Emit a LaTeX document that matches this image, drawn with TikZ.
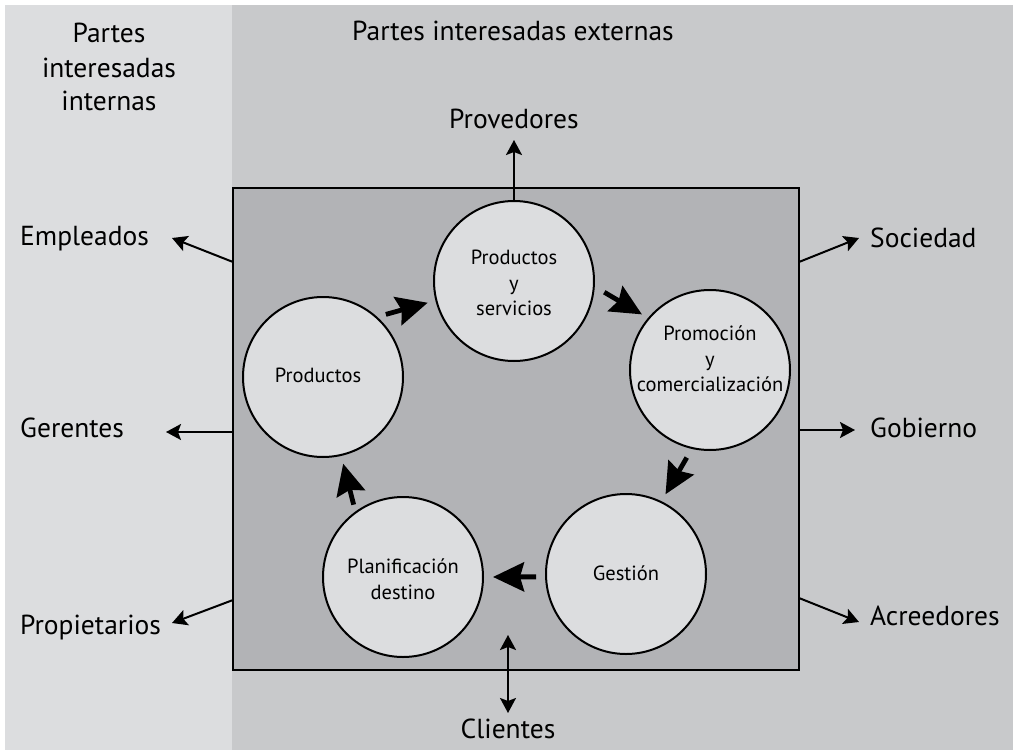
\documentclass[tikz,border=0pt]{standalone}
\usepackage{fontspec}
\setmainfont{PT Sans}
\usetikzlibrary{arrows.meta}

\definecolor{inpanel}{RGB}{220,221,223}
\definecolor{expanel}{RGB}{200,201,203}
\definecolor{boxfill}{RGB}{178,179,182}
\definecolor{circfill}{RGB}{220,221,223}

\begin{document}
\begin{tikzpicture}[x=1pt,y=-1pt,
  outer/.style={font=\fontsize{27.5}{34}\selectfont, inner sep=0pt},
  stage/.style={circle, draw=black, line width=2pt, fill=circfill,
    minimum size=160pt, inner sep=0pt},
  stagetext/.style={align=center, inner sep=0pt,
    font=\fontsize{20.5}{25.5}\selectfont},
  flow/.style={line width=4.8pt, -{Stealth[length=31pt,width=29pt,inset=4pt]}},
  link/.style={line width=2pt, -{Stealth[length=15pt,width=16pt,inset=3pt]}},
  twolink/.style={line width=2pt, {Stealth[length=15pt,width=16pt,inset=3pt]}-{Stealth[length=15pt,width=16pt,inset=3pt]}},
]
\useasboundingbox (0,0) rectangle (1013,750);
\fill[white] (0,0) rectangle (1013,750);

% internal and external stakeholder bands
\fill[inpanel] (5,5) rectangle (232,750);
\fill[expanel] (232,5) rectangle (1013,750);

% organisation box
\node[draw, line width=2pt, fill=boxfill, minimum width=566pt,
  minimum height=482pt, inner sep=0pt] (box) at (516,429) {};

% headings
\node[outer, anchor=base] (h1) at (109,42) {Partes};
\node[outer, anchor=base] (h2) at (109,77) {interesadas};
\node[outer, anchor=base] (h3) at (109,110) {internas};
\node[outer, anchor=base] (hx) at (513,40) {Partes interesadas externas};

% stakeholder labels
\node[outer, anchor=base west] (emp) at (20,245) {Empleados};
\node[outer, anchor=base west] (ger) at (20,437) {Gerentes};
\node[outer, anchor=base west] (pro) at (20,634) {Propietarios};
\node[outer, anchor=base west] (soc) at (870,247) {Sociedad};
\node[outer, anchor=base west] (gob) at (870,437) {Gobierno};
\node[outer, anchor=base west] (acr) at (870,625) {Acreedores};
\node[outer, anchor=base] (prv) at (514,128) {Provedores};
\node[outer, anchor=base] (cli) at (508,738) {Clientes};

% cycle stages
\node[stage] (pys) at (514,281) {};
\node[stage] (promo) at (710,370) {};
\node[stage] (gest) at (626,574) {};
\node[stage] (plan) at (403,577) {};
\node[stage] (prod) at (323,377) {};

\node[stagetext] (pyst) at (514,283) {Productos\\y\\servicios};
\node[stagetext] (promot) at (710,359) {Promoción\\y\\comercialización};
\node[stagetext, anchor=base] (gestt) at (626,580) {Gestión};
\node[stagetext] (plant) at (403,579) {Planificación\\destino};
\node[stagetext, anchor=base] (prodt) at (318,382) {Productos};

% cycle arrows
\draw[flow, shorten <=9pt, shorten >=8pt] (prod.48) -- (pys.194);
\draw[flow, shorten <=11pt, shorten >=7pt] (pys.-4) -- (promo.140);
\draw[flow, shorten <=10pt, shorten >=8pt] (promo.-103) -- (gest.64);
\draw[flow, shorten <=9pt, shorten >=9pt] (gest.182) -- (plan.0);
\draw[flow, shorten <=7pt, shorten >=8pt] (plan.126) -- (prod.-77);

% links to stakeholders
\coordinate (empS) at (233,262);  \coordinate (empT) at (172,238);
\coordinate (gerS) at (233,432);  \coordinate (gerT) at (166,432);
\coordinate (proS) at (233,600);  \coordinate (proT) at (172,623);
\coordinate (socS) at (799,262);  \coordinate (socT) at (859,238);
\coordinate (gobS) at (799,430);  \coordinate (gobT) at (855,430);
\coordinate (acrS) at (799,598);  \coordinate (acrT) at (859,622);
\coordinate (prvT) at (514,140);
\coordinate (cliA) at (508,635);  \coordinate (cliB) at (508,713);

\draw[link] (empS) -- (empT);
\draw[link] (gerS) -- (gerT);
\draw[link] (proS) -- (proT);
\draw[link] (socS) -- (socT);
\draw[link] (gobS) -- (gobT);
\draw[link] (acrS) -- (acrT);
\draw[link] (pys.north) -- (prvT);
\draw[twolink] (cliA) -- (cliB);
\end{tikzpicture}
\end{document}
